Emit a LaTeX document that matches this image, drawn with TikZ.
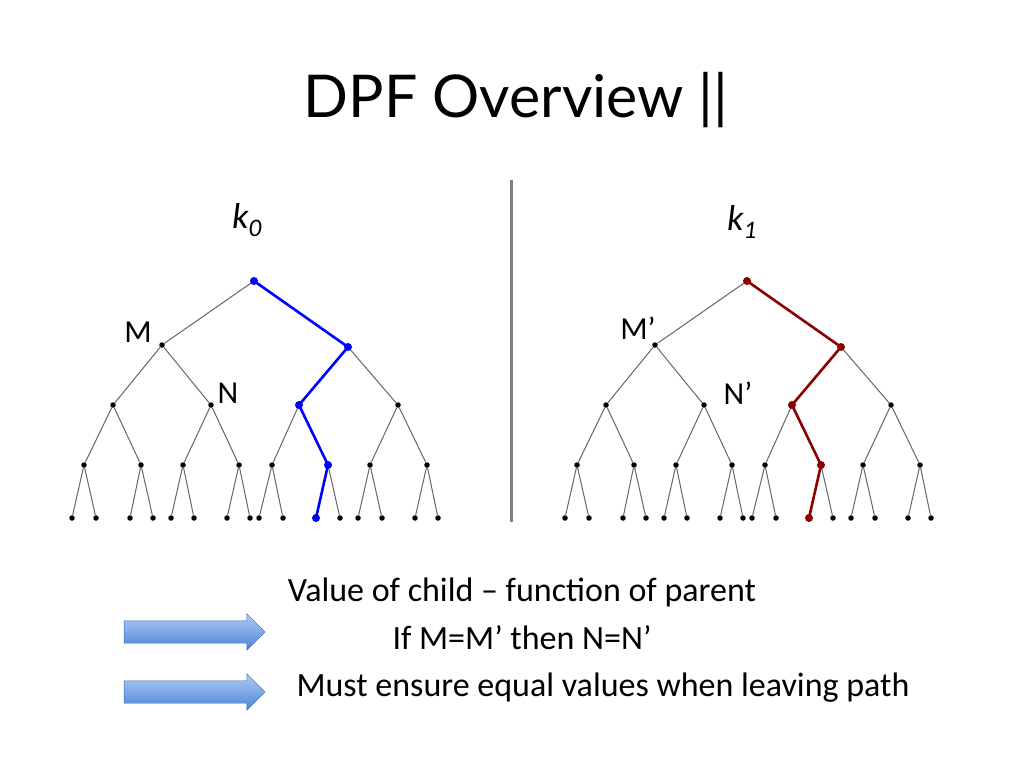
\documentclass[tikz,border=0pt]{standalone}
\usepackage{fontspec}
\setmainfont{Carlito}
\newfontfamily\titlefont{Lato}
\usetikzlibrary{shapes.arrows}
\definecolor{arrbot}{RGB}{75,130,215}
\definecolor{arrtop}{RGB}{175,205,245}
\begin{document}
\begin{tikzpicture}[x=1pt,y=-1pt,
  dot/.style={circle,fill=black,inner sep=0pt,minimum size=5.5pt},
  edge/.style={draw=black!60,line width=1pt},
  pth/.style={line width=2.6pt,line cap=round},
  bigarrow/.style={single arrow,draw=arrbot!80!black,top color=arrtop,bottom color=arrbot,
     minimum height=141pt,minimum width=36pt,single arrow head extend=7pt,inner xsep=0pt,inner ysep=11pt,single arrow head indent=0pt},
  lbl/.style={font=\fontsize{32}{36}\selectfont}]
\useasboundingbox (0,0) rectangle (1024,768);
\node[font=\titlefont\fontsize{59}{66}\selectfont] (title) at (516,100) {DPF Overview ||};
\draw[draw=black!50,line width=3pt] (511,180) coordinate (dtop) -- (511,522) coordinate (dbot);
\foreach \t/\ox in {L/0,R/493}{
  \node[dot] (\t0) at (254+\ox,281) {};
  \node[dot] (\t1a) at (162+\ox,345) {};
  \node[dot] (\t1b) at (348+\ox,347) {};
  \foreach \x [count=\i] in {113,211,299,398}{\node[dot] (\t2-\i) at (\x+\ox,405) {};}
  \foreach \x [count=\i] in {84,141,183,239,272,328,370,427}{\node[dot] (\t3-\i) at (\x+\ox,465) {};}
  \foreach \x [count=\i] in {72,96,130,153,171,194,227,250,259,283,316,340,358,382,415,438}{\node[dot] (\t4-\i) at (\x+\ox,518) {};}
  \draw[edge] (\t0)--(\t1a) (\t0)--(\t1b)
     (\t1a)--(\t2-1) (\t1a)--(\t2-2) (\t1b)--(\t2-3) (\t1b)--(\t2-4);
  \foreach \i/\p in {1/1,2/1,3/2,4/2,5/3,6/3,7/4,8/4}{\draw[edge] (\t2-\p)--(\t3-\i);}
  \foreach \i/\p in {1/1,2/1,3/2,4/2,5/3,6/3,7/4,8/4,9/5,10/5,11/6,12/6,13/7,14/7,15/8,16/8}{\draw[edge] (\t3-\p)--(\t4-\i);}
}
\draw[pth,blue] (L0)--(L1b)--(L2-3)--(L3-6)--(L4-11);
\foreach \n in {L0,L1b,L2-3,L3-6,L4-11}{\fill[blue] (\n) circle (4pt);}
\draw[pth,red!55!black] (R0)--(R1b)--(R2-3)--(R3-6)--(R4-11);
\foreach \n in {R0,R1b,R2-3,R3-6,R4-11}{\fill[red!55!black] (\n) circle (4pt);}
\node[lbl,font=\fontsize{36}{40}\selectfont\itshape] (k0) at (247,220) {k\textsubscript{0}};
\node[lbl,font=\fontsize{36}{40}\selectfont\itshape] (k1) at (742,222) {k\textsubscript{1}};
\node[lbl] (M) at (138,332) {M};
\node[lbl] (N) at (228,393) {N};
\node[lbl] (Mp) at (638,328) {M’};
\node[lbl] (Np) at (738,393) {N’};
\node[lbl,font=\fontsize{34}{38}\selectfont] (t1) at (522,592) {Value of child – function of parent};
\node[lbl,font=\fontsize{34}{38}\selectfont] (t2) at (522,638) {If M=M’ then N=N’};
\node[lbl,font=\fontsize{34}{38}\selectfont] (t3) at (603,688) {Must ensure equal values when leaving path};
\node[bigarrow] (a1) at (189,632) {};
\node[bigarrow] (a2) at (189,692) {};
\end{tikzpicture}
\end{document}
